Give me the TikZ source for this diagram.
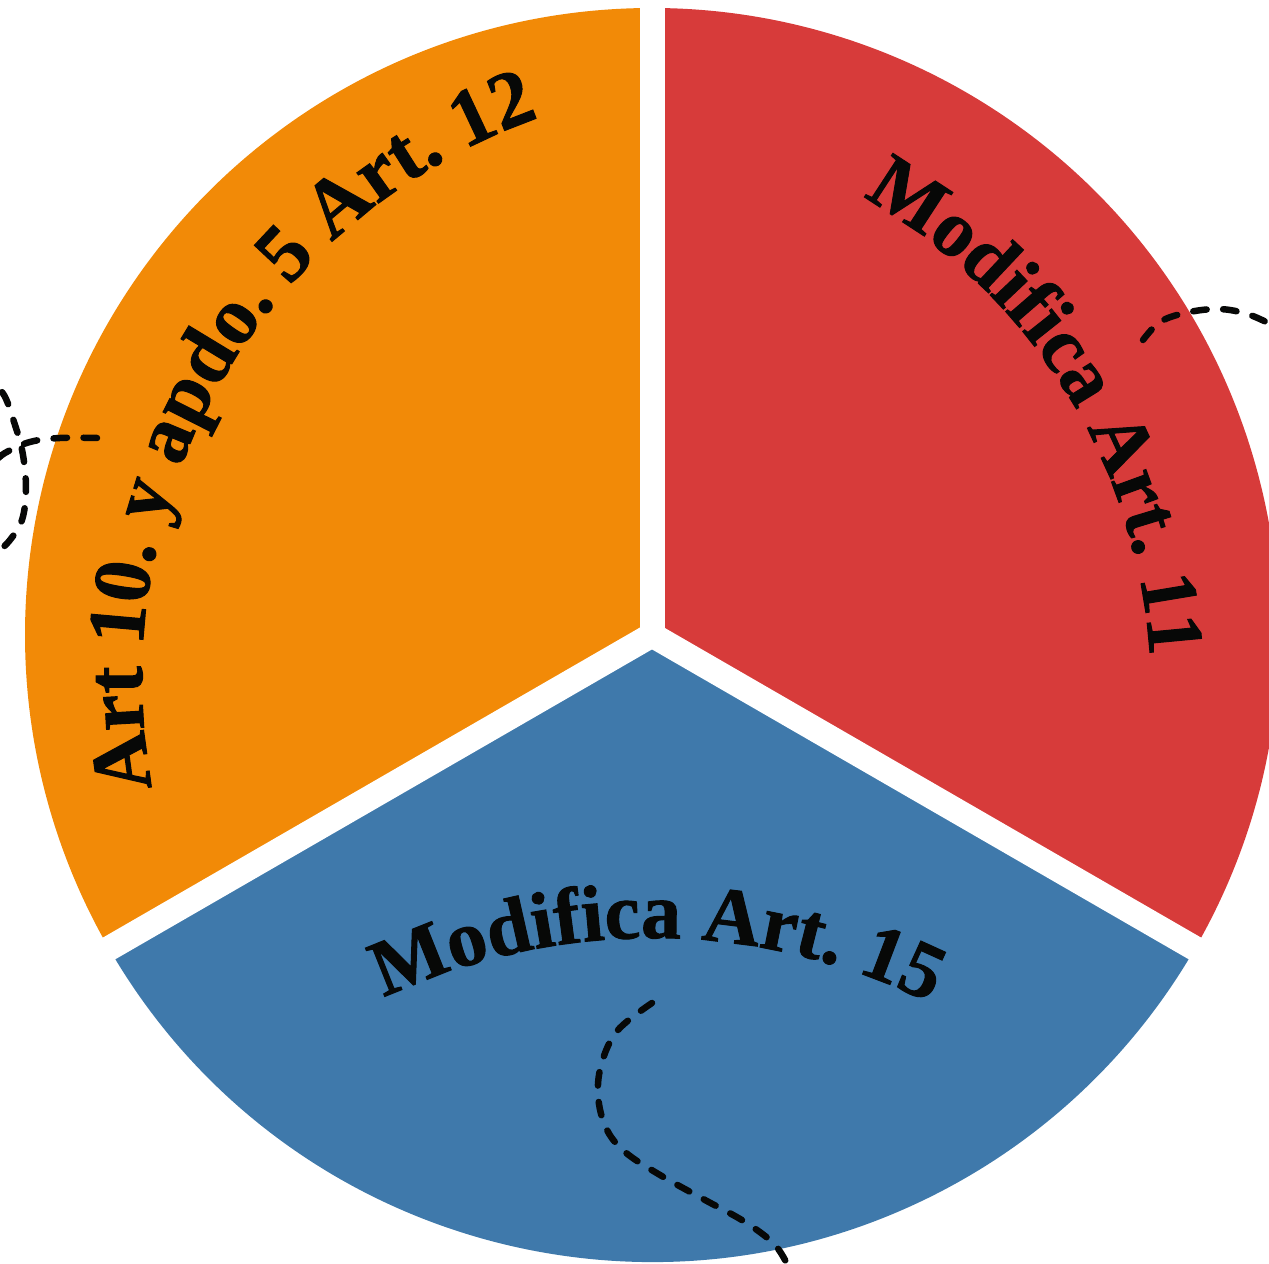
\documentclass[tikz,border=0pt]{standalone}
\usepackage{fontspec}
\setmainfont{Liberation Serif}
\newfontfamily\heavyserif{Liberation Serif}[BoldFeatures={FakeBold=1.2}]
\usetikzlibrary{decorations.text}
\definecolor{pieorange}{HTML}{F28A07}
\definecolor{piered}{HTML}{D73B3A}
\definecolor{pieblue}{HTML}{3F79AB}
\definecolor{ink}{HTML}{070807}
\tikzset{
  gapline/.style={white, line width=0.5cm},
  doodle/.style={ink, line width=0.13cm, line cap=round, dash pattern=on 0.27cm off 0.33cm},
  arctext/.style 2 args={decorate, decoration={text along path, text align=center, text color=ink,
     text={|\heavyserif\bfseries\fontsize{#1}{50}\selectfont|#2}}}
}
\begin{document}
\begin{tikzpicture}[x=0.02cm,y=0.02cm]
\useasboundingbox (0,0) rectangle (1269,1264);
\clip (0,0) rectangle (1269,1264);
\coordinate (C) at (652,629);
% sectors
\fill[pieorange] (C) -- ++(90:627) arc[start angle=90,end angle=210,radius=627] -- cycle;
\fill[piered] (C) -- ++(-30:627) arc[start angle=-30,end angle=90,radius=627] -- cycle;
\fill[pieblue] (C) -- ++(210:627) arc[start angle=210,end angle=330,radius=627] -- cycle;
% white gaps
\draw[gapline] (C) -- ++(90:700);
\draw[gapline] (C) -- ++(210:700);
\draw[gapline] (C) -- ++(330:700);
\fill[white] (C) circle[radius=12];
% curved labels
\coordinate (Co) at (736,586);
\path[arctext={46.3}{Art 10. y apdo. 5 Art. 12}] (Co) ++(191:594) arc[start angle=191,end angle=109,radius=594];
\coordinate (Cr) at (586,574);
\path[arctext={45.4}{Modifica Art. 11}] (Cr) ++(60.5:565) arc[start angle=60.5,end angle=3.6,radius=565];
\coordinate (Cb) at (652,-302);
\path[arctext={45.4}{Modifica Art. 15}] (Cb) ++(117:628) arc[start angle=117,end angle=62,radius=628];
% dashed doodles
\draw[doodle] plot[smooth, tension=0.6] coordinates {(652,261) (618,234) (602,202) (598,169) (606,136) (625,112) (660,89) (705,64) (745,42) (775,19) (790,-6)};
\draw[doodle] plot[smooth, tension=0.6] coordinates {(1143,924) (1160,942) (1185,951) (1215,955) (1240,952) (1262,944) (1290,929)};
\draw[doodle] plot[smooth, tension=0.6] coordinates {(97,826) (60,826) (30,822) (5,811) (-20,794) (-45,812) (-45,860) (-20,885) (2,872) (15,839) (23,809) (26,774) (22,744) (10,724) (-5,709)};
\end{tikzpicture}
\end{document}
